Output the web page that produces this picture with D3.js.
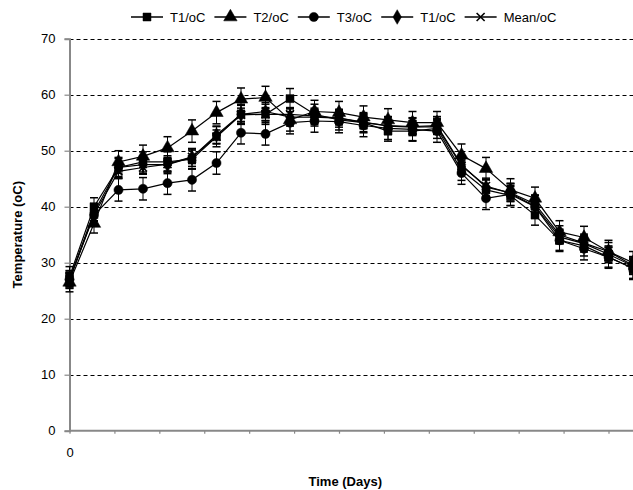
<!DOCTYPE html>
<html>
<head>
<meta charset="utf-8">
<script src="https://cdn.jsdelivr.net/npm/d3@7"></script>
<style>
  body { margin: 0; background: #fff; }
  svg { display: block; }
  text { font-family: Arial, "Liberation Sans", sans-serif; fill: #000; }
</style>
</head>
<body>
<svg id="chart" width="633" height="490"></svg>
<script>
// Sampling points along the time axis
const days = [0, 1, 2, 3, 4, 5, 6, 7, 8, 9, 10, 11, 12, 13, 14, 15, 16, 17, 18, 19, 20, 21, 22, 23];

// Temperature readings (°C) for each probe and their mean
const t1Values   = [27.5, 40.0, 47.0, 48.0, 48.0, 48.5, 52.5, 56.5, 56.5, 59.3, 56.5, 55.5, 55.0, 53.5, 53.5, 54.0, 46.5, 43.0, 42.0, 38.5, 34.0, 33.0, 31.0, 29.0];
const t2Values   = [26.5, 37.0, 48.0, 49.0, 50.5, 53.5, 56.8, 59.2, 59.5, 55.5, 57.0, 56.8, 56.0, 55.5, 55.0, 55.0, 49.2, 46.8, 43.0, 41.5, 35.5, 34.5, 32.0, 30.0];
const t3Values   = [27.0, 38.5, 43.0, 43.2, 44.2, 44.8, 47.8, 53.2, 53.0, 55.0, 55.3, 55.2, 54.5, 54.0, 53.8, 53.5, 46.0, 41.5, 42.2, 40.0, 34.0, 32.5, 31.0, 29.0];
const t4Values   = [27.0, 39.0, 47.0, 47.5, 47.5, 48.8, 52.8, 56.5, 57.0, 56.0, 56.0, 55.8, 55.0, 54.5, 54.3, 54.5, 47.5, 43.5, 42.5, 40.5, 35.0, 33.5, 32.0, 29.5];
const meanValues = [27.0, 38.6, 46.3, 47.0, 47.6, 48.9, 52.5, 56.4, 56.5, 56.5, 56.2, 55.8, 55.1, 54.4, 54.2, 54.3, 47.3, 43.7, 42.4, 40.1, 34.6, 33.4, 31.5, 29.4];

// Standard deviation of each series (error bar half-height)
const t1Errors   = [1.8, 1.6, 1.8, 1.8, 1.8, 1.8, 1.8, 1.8, 1.8, 1.8, 1.8, 1.8, 1.8, 1.8, 1.8, 1.8, 1.8, 1.8, 1.8, 1.8, 1.8, 1.8, 1.8, 1.8];
const t2Errors   = [1.7, 1.7, 2.0, 2.0, 2.0, 2.0, 2.0, 2.0, 2.0, 2.0, 2.0, 2.0, 2.0, 2.0, 2.0, 2.0, 2.0, 2.0, 2.0, 2.0, 2.0, 2.0, 2.0, 2.0];
const t3Errors   = [1.6, 1.6, 2.0, 2.0, 2.0, 2.0, 2.0, 2.0, 2.0, 2.0, 2.0, 2.0, 2.0, 2.0, 2.0, 2.0, 2.0, 2.0, 2.0, 2.0, 2.0, 2.0, 2.0, 2.0];
const t4Errors   = [1.5, 1.5, 1.6, 1.6, 1.6, 1.6, 1.6, 1.6, 1.6, 1.6, 1.6, 1.6, 1.6, 1.6, 1.6, 1.6, 1.6, 1.6, 1.6, 1.6, 1.6, 1.6, 1.6, 1.6];
const meanErrors = [1.2, 1.2, 1.2, 1.2, 1.2, 1.2, 1.2, 1.2, 1.2, 1.2, 1.2, 1.2, 1.2, 1.2, 1.2, 1.2, 1.2, 1.2, 1.2, 1.2, 1.2, 1.2, 1.2, 1.2];

const seriesNames   = ["T1/oC", "T2/oC", "T3/oC", "T1/oC", "Mean/oC"];
const seriesMarkers = ["square", "triangle", "circle", "diamond", "cross"];
const seriesValues  = [t1Values, t2Values, t3Values, t4Values, meanValues];
const seriesErrors  = [t1Errors, t2Errors, t3Errors, t4Errors, meanErrors];

// Axis ticks and labels
const yTicks = [0, 10, 20, 30, 40, 50, 60, 70];
const xTickStep = 11 / 6;
const xTickLabels = ["0"];
const xTitle = "Time (Days)";
const yTitle = "Temperature (oC)";

const series = seriesNames.map((name, i) => ({
  name,
  marker: seriesMarkers[i],
  points: days.map((d, j) => ({ day: d, value: seriesValues[i][j], err: seriesErrors[i][j] }))
}));

const svg = d3.select("#chart");
const W = 633, H = 490;
const plot = { left: 69.5, right: 633, top: 38.7, bottom: 430.7 };

const x = d3.scaleLinear().domain([0, 23]).range([plot.left, plot.right]);
const y = d3.scaleLinear().domain([0, 70]).range([plot.bottom, plot.top]);

// Dashed horizontal gridlines
svg.append("g")
  .selectAll("line")
  .data(yTicks.filter(t => t > 0))
  .join("line")
  .attr("x1", plot.left).attr("x2", W)
  .attr("y1", d => Math.round(y(d)) + 0.5).attr("y2", d => Math.round(y(d)) + 0.5)
  .attr("stroke", "#000").attr("stroke-width", 1)
  .attr("stroke-dasharray", "4,3");

// Y axis
const yAxis = d3.axisLeft(y).tickValues(yTicks).tickSize(5).tickPadding(9).tickFormat(d3.format("d"));
const gy = svg.append("g").attr("transform", `translate(${plot.left},0)`).call(yAxis);
gy.select(".domain").attr("stroke", "#888").attr("stroke-width", 2);
gy.selectAll(".tick line").attr("stroke", "#888").attr("stroke-width", 1.2);
gy.selectAll(".tick text").attr("font-size", 13).attr("font-family", "Arial, 'Liberation Sans', sans-serif").attr("fill", "#000");

// X axis
const xTickValues = d3.range(0, 24, xTickStep);
const xAxis = d3.axisBottom(x).tickValues(xTickValues).tickSize(3).tickPadding(14)
  .tickFormat((d, i) => xTickLabels[i] || "");
const gx = svg.append("g").attr("transform", `translate(0,${plot.bottom})`).call(xAxis);
gx.select(".domain").attr("stroke", "#888").attr("stroke-width", 2).attr("d", `M${plot.left},0H${W}`);
gx.selectAll(".tick line").attr("stroke", "#888").attr("stroke-width", 1.2);
gx.selectAll(".tick text").attr("font-size", 13).attr("font-family", "Arial, 'Liberation Sans', sans-serif").attr("fill", "#000");

// Axis titles
svg.append("text")
  .attr("x", (plot.left + W) / 2 - 6).attr("y", 486)
  .attr("text-anchor", "middle").attr("font-size", 13).attr("font-weight", "bold")
  .text(xTitle);
svg.append("text")
  .attr("transform", `translate(22,${(plot.top + plot.bottom) / 2}) rotate(-90)`)
  .attr("text-anchor", "middle").attr("font-size", 13).attr("font-weight", "bold")
  .text(yTitle);

// Marker shapes
function markerPath(kind) {
  switch (kind) {
    case "square":   return d3.symbol(d3.symbolSquare, 64)();
    case "triangle": return d3.symbol(d3.symbolTriangle, 78)();
    case "circle":   return d3.symbol(d3.symbolCircle, 66)();
    case "diamond":  return d3.symbol(d3.symbolDiamond, 62)();
    default:         return "M-4,-4L4,4M-4,4L4,-4";
  }
}
function drawMarker(g, kind) {
  const p = g.append("path").attr("d", markerPath(kind));
  if (kind === "cross") p.attr("fill", "none").attr("stroke", "#000").attr("stroke-width", 1.6);
  else p.attr("fill", "#000").attr("stroke", "#000").attr("stroke-width", 0.5);
}

const line = d3.line().x(d => x(d.day)).y(d => y(d.value));
const capHalf = 4;

series.forEach(s => {
  const g = svg.append("g");
  // error bars
  const eb = g.append("g").attr("stroke", "#000").attr("stroke-width", 1);
  s.points.forEach(p => {
    const cx = x(p.day), yt = y(p.value + p.err), yb = y(p.value - p.err);
    eb.append("line").attr("x1", cx).attr("x2", cx).attr("y1", yt).attr("y2", yb);
    eb.append("line").attr("x1", cx - capHalf).attr("x2", cx + capHalf).attr("y1", yt).attr("y2", yt).attr("stroke-width", 1.5);
    eb.append("line").attr("x1", cx - capHalf).attr("x2", cx + capHalf).attr("y1", yb).attr("y2", yb).attr("stroke-width", 1.5);
  });
  // connecting line
  g.append("path").datum(s.points).attr("d", line)
    .attr("fill", "none").attr("stroke", "#000").attr("stroke-width", 1.2);
  // markers
  s.points.forEach(p => {
    const m = g.append("g").attr("transform", `translate(${x(p.day)},${y(p.value)})`);
    drawMarker(m, s.marker);
  });
});

// Legend
const legend = svg.append("g").attr("transform", "translate(0,17)");
let lx = 131;
series.forEach(s => {
  const item = legend.append("g").attr("transform", `translate(${lx},0)`);
  item.append("line").attr("x1", 0).attr("x2", 32).attr("y1", 0).attr("y2", 0)
    .attr("stroke", "#000").attr("stroke-width", 1.5);
  drawMarker(item.append("g").attr("transform", "translate(16,0)"), s.marker);
  const t = item.append("text").attr("x", 39).attr("y", 0).attr("dy", "0.36em")
    .attr("font-size", 13).text(s.name);
  lx += 39 + t.node().getComputedTextLength() + 9;
});
</script>
</body>
</html>
